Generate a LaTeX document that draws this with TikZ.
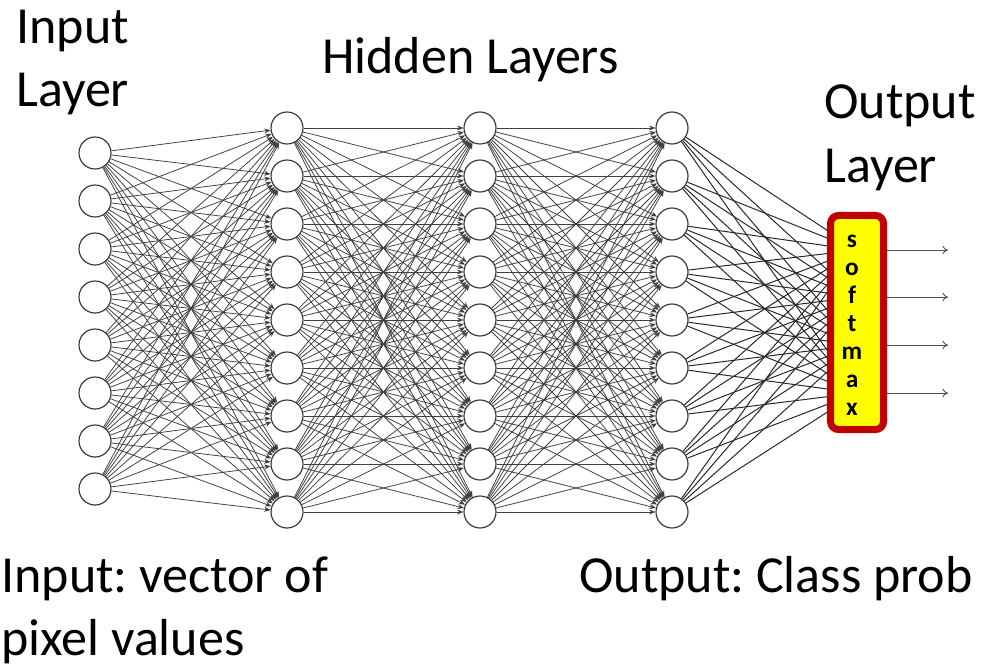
\documentclass[tikz,border=0pt]{standalone}
\usepackage{fontspec}
\setmainfont{Carlito}
\frenchspacing
\usetikzlibrary{arrows.meta}
\definecolor{smred}{HTML}{C00000}
\definecolor{smyellow}{HTML}{FFFF00}
\tikzset{neuron/.style={circle, draw=black!80, line width=0.8pt, fill=white, minimum size=0.8cm, inner sep=0pt},
  wire/.style={draw=black!75, line width=0.55pt, -{Stealth[length=4.5pt,width=3.5pt]}},
  feed/.style={draw=black!85, line width=0.7pt},
  outarr/.style={draw=black!70, line width=0.6pt, -{To[length=4pt,width=6pt]}},
  lbl/.style={font=\fontsize{37}{44}\selectfont, inner sep=0pt, anchor=base west},
  smbox/.style={draw=smred, fill=smyellow, line width=5pt, rounded corners=0.2cm, minimum width=1.325cm, minimum height=5.35cm},
  smletter/.style={font=\bfseries\fontsize{18}{20}\selectfont, inner sep=0pt, anchor=base}}

\begin{document}
\begin{tikzpicture}[x=0.025cm, y=-0.025cm]
  \useasboundingbox (0,0) rectangle (984,671);
  % layers
  \foreach \i in {1,...,8}
    \node[neuron] (in-\i) at (95,{153+48*(\i-1)}) {};
  \foreach \x/\l in {287/h1,480/h2,672/h3}
    \foreach \j in {1,...,9}
      \node[neuron] (\l-\j) at (\x,{128+48*(\j-1)}) {};
  % connections
  \foreach \i in {1,...,8}
    \foreach \j in {1,...,9}
      \draw[wire] (in-\i) -- (h1-\j);
  \foreach \a/\b in {h1/h2,h2/h3}
    \foreach \i in {1,...,9}
      \foreach \j in {1,...,9}
        \draw[wire] (\a-\i) -- (\b-\j);
  % output layer (under softmax)
  \foreach \y [count=\k] in {250,297,345,393} {
    \coordinate (out-\k) at (857,\y);
    \coordinate (tip-\k) at (948,\y);
  }
  \foreach \j in {1,...,9}
    \foreach \k in {1,...,4}
      \draw[feed] (h3-\j) -- (out-\k);
  \node[smbox] (sm) at (857,322.5) {};
  \foreach \c [count=\n] in {s,o,f,t,m,a,x}
    \node[smletter] (sm-\n) at (852,{247+28*(\n-1)}) {\c};
  \foreach \k in {1,...,4}
    \draw[outarr] (sm.east |- out-\k) -- (tip-\k);
  % labels
  \node[lbl] (inlbl-1) at (16,43) {Input};
  \node[lbl] (inlbl-2) at (16,106) {Layer};
  \node[lbl] (hidlbl) at (322,73) {Hidden Layers};
  \node[lbl] (outlbl-1) at (824,118) {Output};
  \node[lbl] (outlbl-2) at (824,182) {Layer};
  \node[lbl] (invec-1) at (1,592) {Input: vector of};
  \node[lbl] (invec-2) at (1,655) {pixel values};
  \node[lbl] (outprob) at (579,592) {Output: Class prob};
\end{tikzpicture}
\end{document}
